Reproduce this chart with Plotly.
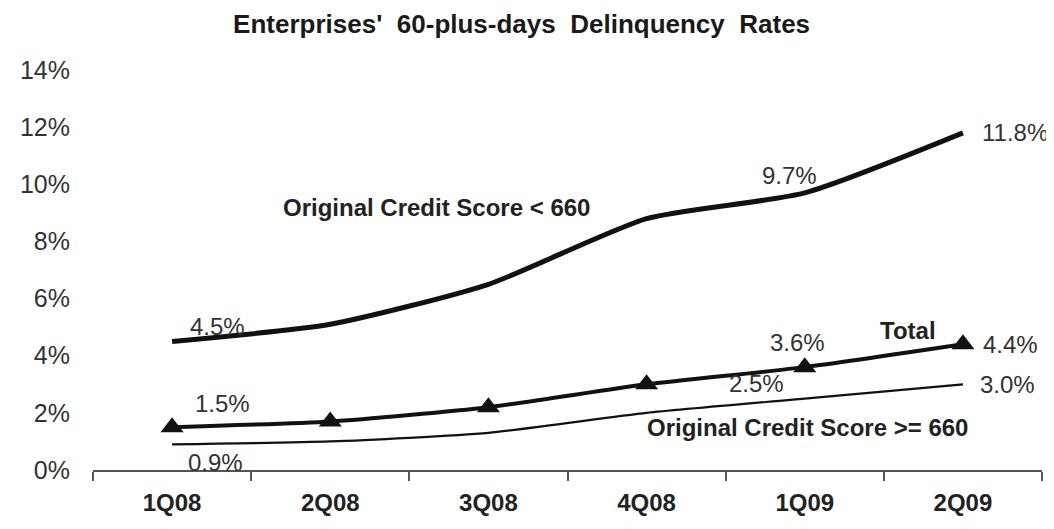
import plotly.graph_objects as go

quarters = ["1Q08", "2Q08", "3Q08", "4Q08", "1Q09", "2Q09"]
below_660 = [4.5, 5.1, 6.5, 8.8, 9.7, 11.8]
total = [1.5, 1.7, 2.2, 3.0, 3.6, 4.4]
above_660 = [0.9, 1.0, 1.3, 2.0, 2.5, 3.0]
y_ticks = [0, 2, 4, 6, 8, 10, 12, 14]
y_tick_text = [f"{v}%" for v in y_ticks]

BOLD = "Liberation Sans, Arial, sans-serif"
REG = "Liberation Sans, Arial, sans-serif"
INK = "#111111"

fig = go.Figure()
fig.add_trace(go.Scatter(x=quarters, y=below_660, mode="lines",
                         line=dict(color=INK, width=5, shape="spline", smoothing=0.6),
                         hoverinfo="skip"))
fig.add_trace(go.Scatter(x=quarters, y=above_660, mode="lines",
                         line=dict(color=INK, width=2.2, shape="spline", smoothing=0.6),
                         hoverinfo="skip"))
fig.add_trace(go.Scatter(x=quarters, y=total, mode="lines+markers",
                         line=dict(color=INK, width=4, shape="spline", smoothing=0.6),
                         marker=dict(symbol="triangle-up", size=20, color=INK),
                         hoverinfo="skip"))

def lab(series, i, dx, dy):
    fig.add_annotation(x=quarters[i], y=series[i], text=f"{series[i]:.1f}%",
                       showarrow=False, xshift=dx, yshift=dy,
                       font=dict(family=REG, size=24, color="#333333"))

lab(below_660, 0, 45, 15)
lab(below_660, 4, -15, 17)
lab(below_660, 5, 52, 0)
lab(total, 0, 50, 24)
lab(total, 4, -7, 25)
lab(total, 5, 48, 0)
lab(above_660, 0, 43, -18)
lab(above_660, 4, -48, 15)
lab(above_660, 5, 45, 0)

bold_font = dict(family=BOLD, size=24, color="#222222")
fig.add_annotation(x=1.67, y=9.2, text="<b>Original Credit Score &lt; 660</b>",
                   showarrow=False, font=bold_font)
fig.add_annotation(x=4.65, y=4.87, text="<b>Total</b>", showarrow=False, font=bold_font)
fig.add_annotation(x=4.02, y=1.5, text="<b>Original Credit Score &gt;= 660</b>",
                   showarrow=False, font=bold_font)

# page body has an 8px default margin, so the figure is placed 8px right/down
fig.update_layout(
    width=1046, height=521,
    margin=dict(l=81, r=12, t=62, b=59),
    paper_bgcolor="white", plot_bgcolor="white",
    showlegend=False,
    title=dict(text="<b>Enterprises'&nbsp; 60-plus-days&nbsp; Delinquency&nbsp; Rates</b>",
               x=0.491, xanchor="center", xref="container", y=0.97, yanchor="middle",
               font=dict(family=BOLD, size=26, color="#1a1a1a")),
)
fig.update_xaxes(type="category", range=[-0.5, 5.5], showgrid=False, zeroline=False,
                 showline=True, linecolor="#555555", linewidth=1.5,
                 ticks="outside", tickson="boundaries", ticklen=9, tickcolor="#555555",
                 tickwidth=1.5, ticklabelstandoff=10,
                 tickfont=dict(family=BOLD, size=24, color="#222222"),
                 tickprefix="<b>", ticksuffix="</b>")
fig.update_yaxes(range=[0, 14], tickvals=y_ticks, ticktext=y_tick_text,
                 showgrid=False, zeroline=False, showline=False, ticks="",
                 ticklabelstandoff=22,
                 tickfont=dict(family=REG, size=25, color="#333333"))

fig.write_html("out.html")
